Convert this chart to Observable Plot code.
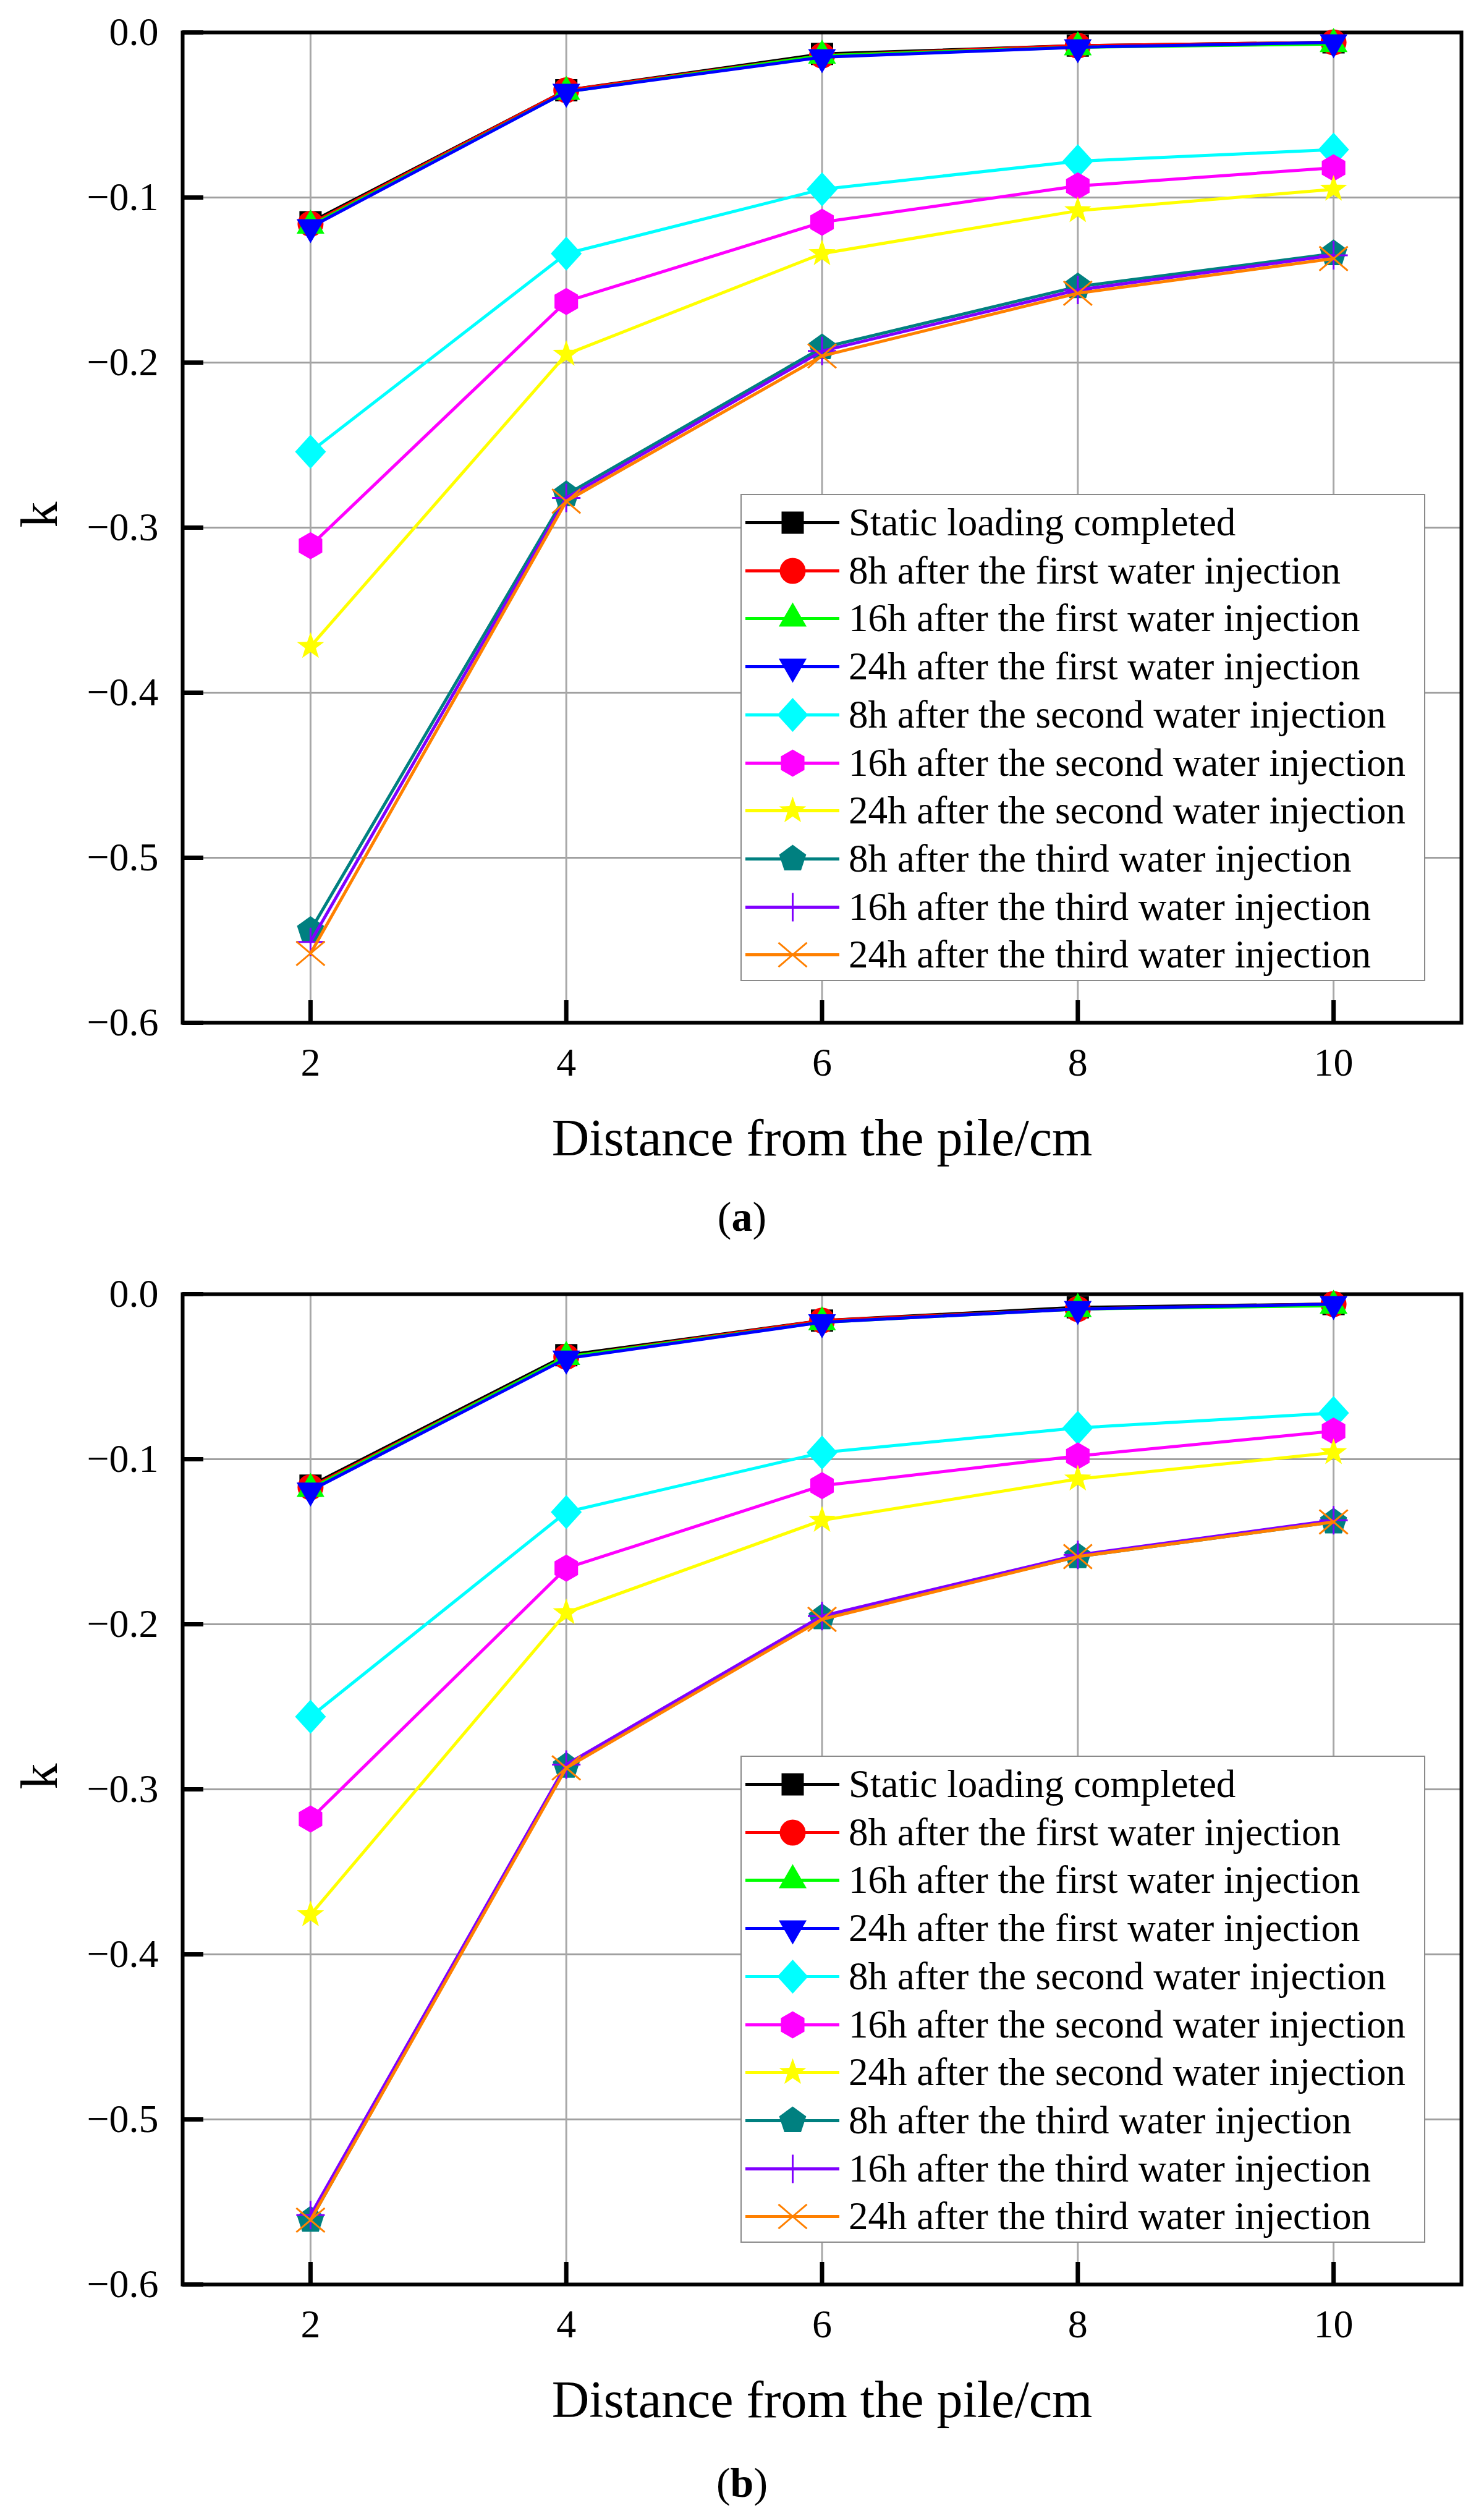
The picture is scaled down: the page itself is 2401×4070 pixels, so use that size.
<!DOCTYPE html>
<html>
<head>
<meta charset="utf-8">
<script src="https://cdn.jsdelivr.net/npm/d3@7"></script>
<script src="https://cdn.jsdelivr.net/npm/@observablehq/plot@0.6"></script>
<style>
  html, body { margin: 0; padding: 0; background: #fff; }
  #root { width: 2401px; font-family: "Liberation Serif", "Times New Roman", serif; color: #000; }
  .panel { position: relative; width: 2401px; }
  .legend { position: absolute; background: #fff; border: 2px solid #8a8a8a; box-sizing: border-box; }
  .row { position: absolute; left: 0; height: 70px; display: flex; align-items: center; white-space: nowrap; }
  .row svg { display: block; }
  .row span { font-size: 63px; line-height: 70px; margin-left: 15px; }
  .caption { width: 2401px; text-align: center; font-size: 68px; overflow: visible; }
  svg text { font-family: "Liberation Serif", "Times New Roman", serif; }
</style>
</head>
<body>
<div id="root"></div>
<script>
// ---------------- data ----------------
const distances = [2, 4, 6, 8, 10];
const xTicks = [2, 4, 6, 8, 10];
const yTicks = [0, -0.1, -0.2, -0.3, -0.4, -0.5, -0.6];

const seriesLabels = [
  "Static loading completed",
  "8h after the first water injection",
  "16h after the first water injection",
  "24h after the first water injection",
  "8h after the second water injection",
  "16h after the second water injection",
  "24h after the second water injection",
  "8h after the third water injection",
  "16h after the third water injection",
  "24h after the third water injection"
];

// panel (a)
const a_static   = [-0.115, -0.035, -0.013, -0.008, -0.006];
const a_first8   = [-0.116, -0.035, -0.014, -0.008, -0.006];
const a_first16  = [-0.117, -0.036, -0.014, -0.009, -0.007];
const a_first24  = [-0.118, -0.036, -0.015, -0.009, -0.006];
const a_second8  = [-0.254, -0.134, -0.095, -0.078, -0.071];
const a_second16 = [-0.311, -0.163, -0.115, -0.093, -0.082];
const a_second24 = [-0.372, -0.195, -0.134, -0.108, -0.095];
const a_third8   = [-0.544, -0.280, -0.191, -0.154, -0.134];
const a_third16  = [-0.551, -0.282, -0.193, -0.156, -0.135];
const a_third24  = [-0.558, -0.284, -0.196, -0.158, -0.137];

// panel (b)
const b_static   = [-0.116, -0.037, -0.016, -0.008, -0.006];
const b_first8   = [-0.117, -0.038, -0.016, -0.009, -0.006];
const b_first16  = [-0.118, -0.038, -0.017, -0.009, -0.007];
const b_first24  = [-0.119, -0.039, -0.017, -0.009, -0.006];
const b_second8  = [-0.256, -0.132, -0.096, -0.081, -0.072];
const b_second16 = [-0.318, -0.166, -0.116, -0.098, -0.083];
const b_second24 = [-0.376, -0.193, -0.137, -0.112, -0.096];
const b_third8   = [-0.561, -0.286, -0.196, -0.159, -0.138];
const b_third16  = [-0.558, -0.285, -0.195, -0.158, -0.137];
const b_third24  = [-0.561, -0.287, -0.197, -0.159, -0.138];

const panelA = [a_static, a_first8, a_first16, a_first24, a_second8, a_second16, a_second24, a_third8, a_third16, a_third24];
const panelB = [b_static, b_first8, b_first16, b_first24, b_second8, b_second16, b_second24, b_third8, b_third16, b_third24];

// ---------------- styles ----------------
const R = (s) => Math.sqrt(s / Math.PI);
function poly(c, pts) { c.moveTo(pts[0][0], pts[0][1]); for (let i = 1; i < pts.length; i++) c.lineTo(pts[i][0], pts[i][1]); c.closePath(); }
function regular(n, r, start) { const p = []; for (let i = 0; i < n; i++) { const a = (start + i * 360 / n) * Math.PI / 180; p.push([r * Math.cos(a), r * Math.sin(a)]); } return p; }
const symbols = {
  square:   { draw(c, s) { const r = R(s); c.rect(-r, -r, 2 * r, 2 * r); } },
  circle:   { draw(c, s) { const r = R(s); c.moveTo(r, 0); c.arc(0, 0, r, 0, 2 * Math.PI); } },
  triUp:    { draw(c, s) { poly(c, regular(3, R(s), -90)); } },
  triDown:  { draw(c, s) { poly(c, regular(3, R(s), 90)); } },
  diamond:  { draw(c, s) { const r = R(s); poly(c, [[0, -r * 1.1], [r, 0], [0, r * 1.1], [-r, 0]]); } },
  hexagon:  { draw(c, s) { poly(c, regular(6, R(s), -90)); } },
  star:     { draw(c, s) { const r = R(s), p = []; for (let i = 0; i < 10; i++) { const a = (-90 + i * 36) * Math.PI / 180, rr = i % 2 ? r * 0.4 : r; p.push([rr * Math.cos(a), rr * Math.sin(a)]); } poly(c, p); } },
  pentagon: { draw(c, s) { poly(c, regular(5, R(s), -90)); } },
  plus:     { draw(c, s) { const r = R(s); c.moveTo(0, -r); c.lineTo(0, r); c.moveTo(-r, 0); c.lineTo(r, 0); } },
  times:    { draw(c, s) { const r = R(s); c.moveTo(-r, -r * 0.85); c.lineTo(r, r * 0.85); c.moveTo(r, -r * 0.85); c.lineTo(-r, r * 0.85); } }
};
const seriesStyle = [
  { color: "#000000", sym: "square",   r: 18, filled: true },
  { color: "#ff0000", sym: "circle",   r: 21, filled: true },
  { color: "#00ff00", sym: "triUp",    r: 26, filled: true },
  { color: "#0000ff", sym: "triDown",  r: 26, filled: true },
  { color: "#00ffff", sym: "diamond",  r: 25, filled: true },
  { color: "#ff00ff", sym: "hexagon",  r: 22, filled: true },
  { color: "#ffff00", sym: "star",     r: 23, filled: true },
  { color: "#008080", sym: "pentagon", r: 23, filled: true },
  { color: "#8000ff", sym: "plus",     r: 23, filled: false },
  { color: "#ff8000", sym: "times",    r: 23, filled: false }
];
const FONT = '"Liberation Serif", "Times New Roman", serif';

function dotOpts(st, extra) {
  return Object.assign({
    symbol: symbols[st.sym], r: st.r,
    fill: st.filled ? st.color : "none",
    stroke: st.filled ? "none" : st.color,
    strokeWidth: st.filled ? 0 : 3
  }, extra);
}

function makePanel(values, captionLetter, captionHeight, captionLine) {
  const marks = [
    Plot.gridY({ ticks: yTicks, stroke: "#a0a0a0", strokeOpacity: 1, strokeWidth: 3 }),
    Plot.gridX({ ticks: xTicks, stroke: "#a8a8a8", strokeOpacity: 1, strokeWidth: 3 }),
    Plot.frame({ stroke: "#000", strokeWidth: 6 }),
    Plot.axisY({ ticks: yTicks, tickSize: 34, dx: 34, tickFormat: () => "", strokeWidth: 7, stroke: "#000", label: null }),
    Plot.axisX({ ticks: xTicks, tickSize: 36, dy: -36, tickFormat: () => "", strokeWidth: 7, stroke: "#000", label: null }),
    Plot.axisY({ ticks: yTicks, tickSize: 0, tickPadding: 39, tickFormat: d3.format(".1f"), fontSize: 64, fontFamily: FONT, fill: "#000", label: null }),
    Plot.axisX({ ticks: xTicks, tickSize: 0, tickPadding: 40, tickFormat: d3.format("d"), fontSize: 64, fontFamily: FONT, fill: "#000", label: null }),
    Plot.text(["k"], { frameAnchor: "left", dx: -230, rotate: -90, fontSize: 84, fontFamily: FONT, fill: "#000" }),
    Plot.text(["Distance from the pile/cm"], { frameAnchor: "bottom", dy: 214, fontSize: 84, fontFamily: FONT, fill: "#000" })
  ];
  values.forEach((vals, i) => {
    const st = seriesStyle[i];
    const rows = distances.map((d, j) => ({ x: d, k: vals[j] }));
    marks.push(Plot.line(rows, { x: "x", y: "k", stroke: st.color, strokeWidth: 5 }));
    marks.push(Plot.dot(rows, dotOpts(st, { x: "x", y: "k" })));
  });
  const plot = Plot.plot({
    width: 2401, height: 1904,
    marginLeft: 295, marginRight: 37, marginTop: 52, marginBottom: 250,
    x: { domain: [1, 11] },
    y: { domain: [-0.6, 0] },
    style: { fontFamily: FONT, background: "#fff", color: "#000", overflow: "visible" },
    marks
  });

  const panel = document.createElement("div");
  panel.className = "panel";
  panel.style.height = "1904px";
  panel.appendChild(plot);

  const legend = document.createElement("div");
  legend.className = "legend";
  Object.assign(legend.style, { left: "1198px", top: "799px", width: "1108px", height: "788px" });
  seriesLabels.forEach((lab, i) => {
    const st = seriesStyle[i];
    const row = document.createElement("div");
    row.className = "row";
    row.style.top = (46 - 35 - 2 + i * 77.7) + "px";
    row.style.left = "6px";
    const sw = Plot.plot({
      width: 152, height: 70, margin: 0,
      x: { domain: [-1, 1], axis: null }, y: { domain: [-1, 1], axis: null },
      style: { background: "transparent", overflow: "visible" },
      marks: [
        Plot.ruleY([0], { stroke: st.color, strokeWidth: 5 }),
        Plot.dot([0], dotOpts(st, { frameAnchor: "middle" }))
      ]
    });
    row.appendChild(sw);
    const span = document.createElement("span");
    span.textContent = lab;
    row.appendChild(span);
    legend.appendChild(row);
  });
  panel.appendChild(legend);

  const cap = document.createElement("div");
  cap.className = "caption";
  cap.style.height = captionHeight + "px";
  cap.style.lineHeight = captionLine + "px";
  cap.innerHTML = "(<b>" + captionLetter + "</b>)";
  const root = document.getElementById("root");
  root.appendChild(panel);
  root.appendChild(cap);
}

makePanel(panelA, "a", 137, 128);
makePanel(panelB, "b", 125, 143);
</script>
</body>
</html>
